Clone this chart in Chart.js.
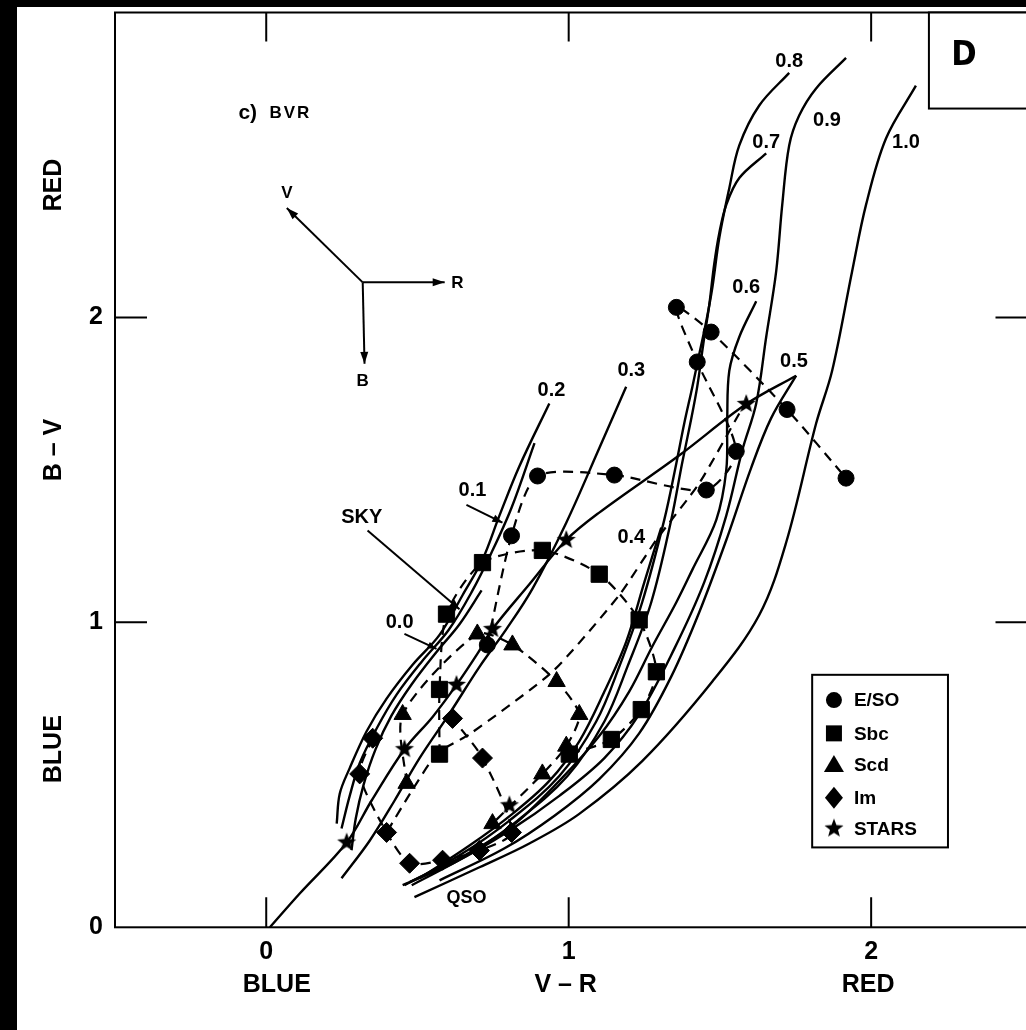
<!DOCTYPE html>
<html>
<head>
<meta charset="utf-8">
<script src="https://cdn.jsdelivr.net/npm/chart.js@4.4.1/dist/chart.umd.min.js"></script>
<style>
  html, body { margin: 0; padding: 0; overflow: hidden; background: #000; width: 1026px; height: 1030px; }
  #paper { position: absolute; left: 17px; top: 7px; right: 0; bottom: 0; background: #fff; }
  #kuva { position: absolute; left: 0; top: 0; }
</style>
</head>
<body>
<div id="paper"></div>
<canvas id="kuva" width="1050" height="1030"></canvas>
<script>
// Akselit: V-R vaakaan, B-V pystyyn
const xTicks = [0, 1, 2];
const yTicks = [0, 1, 2];
const xTitles = ['BLUE', 'V – R', 'RED'];
const yTitles = ['BLUE', 'B – V', 'RED'];

// Yhtenäiset käyrät (punasiirtymä 0.0 ... 1.0), [V-R, B-V]
const curve00 = [[0.712,1.105],[0.639,0.994],[0.563,0.903],[0.481,0.797],[0.414,0.694],[0.362,0.585],[0.322,0.468],[0.296,0.357],[0.282,0.253]];
const curve01 = [[0.887,1.588],[0.811,1.376],[0.745,1.229],[0.679,1.099],[0.603,0.975],[0.514,0.871],[0.431,0.763],[0.365,0.652],[0.309,0.538],[0.276,0.431],[0.249,0.324]];
const curve02 = [[0.936,1.718],[0.837,1.512],[0.771,1.350],[0.715,1.206],[0.649,1.089],[0.573,0.959],[0.484,0.861],[0.398,0.750],[0.332,0.643],[0.276,0.522],[0.243,0.438],[0.233,0.340]];
const curve03 = [[1.190,1.773],[1.101,1.571],[0.992,1.327],[0.880,1.110],[0.794,0.978],[0.705,0.854],[0.606,0.701],[0.507,0.555],[0.424,0.415],[0.342,0.284],[0.249,0.161]];
const curve04 = [[1.306,1.311],[1.250,1.131],[1.190,0.936],[1.118,0.773],[1.035,0.610],[0.936,0.480],[0.814,0.372],[0.672,0.268],[0.507,0.161]];
const curve05 = [[1.752,1.809],[1.669,1.669],[1.603,1.506],[1.524,1.278],[1.432,1.034],[1.339,0.822],[1.233,0.636],[1.101,0.486],[0.953,0.366],[0.788,0.259],[0.573,0.154]];
const curve06 = [[1.620,2.053],[1.564,1.936],[1.531,1.825],[1.524,1.662],[1.521,1.499],[1.488,1.336],[1.409,1.173],[1.356,1.066],[1.276,0.920],[1.200,0.773],[1.101,0.627],[0.969,0.480],[0.814,0.333],[0.656,0.236],[0.474,0.148]];
const curve07 = [[1.653,2.538],[1.564,2.457],[1.521,2.369],[1.498,2.277],[1.481,2.174],[1.465,2.043],[1.445,1.913],[1.425,1.773],[1.402,1.652],[1.375,1.522],[1.339,1.336],[1.273,1.066],[1.194,0.854],[1.118,0.675],[0.996,0.496],[0.831,0.350],[0.665,0.236],[0.481,0.138]];
const curve08 = [[1.729,2.802],[1.630,2.695],[1.564,2.564],[1.531,2.424],[1.498,2.261],[1.475,2.098],[1.455,1.988],[1.432,1.881],[1.409,1.773],[1.382,1.652],[1.356,1.522],[1.316,1.336],[1.243,1.066],[1.167,0.854],[1.091,0.675],[0.969,0.496],[0.804,0.350],[0.639,0.236],[0.457,0.138]];
const curve09 = [[1.917,2.851],[1.818,2.751],[1.762,2.662],[1.729,2.564],[1.706,2.369],[1.686,2.151],[1.653,1.936],[1.620,1.718],[1.574,1.565],[1.521,1.350],[1.448,1.131],[1.349,0.913],[1.233,0.698],[1.118,0.555],[0.969,0.431],[0.804,0.317],[0.623,0.213],[0.451,0.138]];
const curve10 = [[2.148,2.760],[2.049,2.587],[1.983,2.369],[1.937,2.151],[1.871,1.825],[1.818,1.652],[1.719,1.262],[1.630,1.024],[1.475,0.806],[1.243,0.545],[1.035,0.372],[0.870,0.275],[0.705,0.197],[0.490,0.099]];
const stellarLocus = [[0.012,0.0],[0.11,0.11],[0.266,0.278],[0.348,0.415],[0.457,0.584],[0.55,0.69],[0.629,0.795],[0.70,0.90],[0.748,0.978],[0.870,1.125],[0.992,1.27],[1.101,1.36],[1.366,1.548],[1.587,1.716],[1.752,1.809]];
// Katkoviivat
const qsoTrack = [[1.564,1.685],[1.432,1.457],[1.290,1.271],[1.167,1.089],[0.946,0.838],[0.672,0.633],[0.566,0.571],[0.481,0.447],[0.398,0.311]];
const esoPts = [[0.731,0.926],[0.811,1.284],[0.897,1.480],[1.151,1.483],[1.455,1.434],[1.554,1.561],[1.425,1.854],[1.356,2.033],[1.471,1.952],[1.722,1.698],[1.917,1.473]];
const sbcPts = [[0.573,0.568],[0.573,0.780],[0.596,1.027],[0.715,1.196],[0.913,1.236],[1.101,1.158],[1.233,1.008],[1.290,0.838],[1.240,0.714],[1.141,0.616],[1.002,0.568]];
const scdPts = [[0.464,0.472],[0.451,0.698],[0.698,0.962],[0.814,0.926],[0.960,0.806],[1.035,0.698],[0.992,0.594],[0.913,0.503],[0.748,0.340]];
const imPts = [[0.352,0.620],[0.309,0.503],[0.398,0.311],[0.474,0.210],[0.583,0.220],[0.705,0.252],[0.811,0.311],[0.715,0.555],[0.616,0.685]];
const starPts = [[0.266,0.278],[0.457,0.584],[0.629,0.795],[0.748,0.978],[0.992,1.27],[1.587,1.716],[0.804,0.40]];

// Tekstit kuvan sisällä
const zLabels = [['0.0',0.441,1.001],['0.1',0.682,1.431],['0.2',0.943,1.761],['0.3',1.207,1.826],['0.4',1.207,1.278],['0.5',1.745,1.854],['0.6',1.587,2.098],['0.7',1.653,2.574],['0.8',1.729,2.841],['0.9',1.854,2.646],['1.0',2.115,2.574],['SKY',0.316,1.343]];
const legendNames = ['E/SO', 'Sbc', 'Scd', 'Im', 'STARS'];

const FONT = '"Liberation Sans", Arial, sans-serif';

// Täytetty tähti pistetyyliksi
function teeTahti(r) {
  const c = document.createElement('canvas');
  c.width = c.height = Math.ceil(r * 2 + 2);
  const g = c.getContext('2d');
  g.fillStyle = '#000';
  g.beginPath();
  for (let i = 0; i < 10; i++) {
    const rr = i % 2 === 0 ? r : r * 0.42;
    const a = -Math.PI / 2 + i * Math.PI / 5;
    const px = c.width / 2 + rr * Math.cos(a), py = c.height / 2 + rr * Math.sin(a);
    if (i === 0) g.moveTo(px, py); else g.lineTo(px, py);
  }
  g.closePath();
  g.fill();
  return c;
}
const tahti = teeTahti(10);

function xy(arr) { return arr.map(p => ({ x: p[0], y: p[1] })); }

function kayra(arr) {
  return { data: xy(arr), showLine: true, borderColor: '#000', borderWidth: 2.4,
    pointRadius: 0, tension: 0.35, order: 3 };
}
function tyyppi(arr, style, r) {
  return { data: xy(arr), showLine: true, borderColor: '#000', borderWidth: 2.2,
    borderDash: [10, 7], tension: 0.25, pointStyle: style, pointRadius: r,
    pointBackgroundColor: '#000', pointBorderColor: '#000', pointBorderWidth: 1, order: 1 };
}

const datasets = [
  kayra(curve00), kayra(curve01), kayra(curve02), kayra(curve03), kayra(curve04), kayra(curve05),
  kayra(curve06), kayra(curve07), kayra(curve08), kayra(curve09), kayra(curve10), kayra(stellarLocus),
  { data: xy(qsoTrack), showLine: true, borderColor: '#000', borderWidth: 2.2, borderDash: [10, 7],
    pointRadius: 0, tension: 0.2, order: 2 },
  tyyppi(esoPts, 'circle', 8),
  tyyppi(sbcPts, 'rect', 11.5),
  tyyppi(scdPts, 'triangle', 10),
  tyyppi(imPts, 'rectRot', 10),
  { data: xy(starPts), showLine: false, pointStyle: tahti, pointRadius: 10, order: 0 }
];

function nuoli(ctx, x1, y1, x2, y2, len, wid) {
  ctx.beginPath(); ctx.moveTo(x1, y1); ctx.lineTo(x2, y2); ctx.stroke();
  const a = Math.atan2(y2 - y1, x2 - x1);
  ctx.beginPath();
  ctx.moveTo(x2, y2);
  ctx.lineTo(x2 - len * Math.cos(a) + wid * Math.sin(a), y2 - len * Math.sin(a) - wid * Math.cos(a));
  ctx.lineTo(x2 - len * Math.cos(a) - wid * Math.sin(a), y2 - len * Math.sin(a) + wid * Math.cos(a));
  ctx.closePath(); ctx.fill();
}

// Kehys, sisäänpäin osoittavat tikit, tekstit, selite
const koristeet = {
  id: 'koristeet',
  afterDraw(chart) {
    const { ctx, chartArea: a, scales: { x, y } } = chart;
    const X = v => x.getPixelForValue(v), Y = v => y.getPixelForValue(v);
    ctx.save();
    ctx.strokeStyle = '#000'; ctx.fillStyle = '#000'; ctx.lineWidth = 2;
    ctx.strokeRect(a.left, a.top, a.right - a.left, a.bottom - a.top);
    ctx.beginPath();
    xTicks.forEach(v => {
      ctx.moveTo(X(v), a.bottom); ctx.lineTo(X(v), a.bottom - 30);
      ctx.moveTo(X(v), a.top); ctx.lineTo(X(v), a.top + 29);
    });
    yTicks.filter(v => v > 0).forEach(v => {
      ctx.moveTo(a.left, Y(v)); ctx.lineTo(a.left + 32, Y(v));
      ctx.moveTo(a.right, Y(v)); ctx.lineTo(a.right - 42, Y(v));
    });
    ctx.stroke();

    // akselien otsikot
    ctx.font = 'bold 25px ' + FONT;
    ctx.textAlign = 'center'; ctx.textBaseline = 'middle';
    [0.035, 0.99, 1.99].forEach((v, i) => ctx.fillText(xTitles[i], X(v), 985));
    [0.584, 1.565, 2.434].forEach((v, i) => {
      ctx.save(); ctx.translate(54, Y(v)); ctx.rotate(-Math.PI / 2);
      ctx.fillText(yTitles[i], 0, 0); ctx.restore();
    });

    // c) BVR ja suuntanuolet
    ctx.font = 'bold 21px ' + FONT;
    ctx.fillText('c)', X(-0.061), Y(2.669));
    ctx.font = 'bold 17px ' + FONT;
    ctx.letterSpacing = '2px';
    ctx.fillText('BVR', X(0.08), Y(2.669));
    ctx.letterSpacing = '0px';
    ctx.lineWidth = 2;
    const cx = X(0.319), cy = Y(2.115);
    nuoli(ctx, cx, cy, X(0.068), Y(2.359), 12, 4);
    nuoli(ctx, cx, cy, X(0.590), Y(2.115), 12, 4);
    nuoli(ctx, cx, cy, X(0.325), Y(1.848), 12, 4);
    ctx.font = 'bold 17px ' + FONT;
    ctx.fillText('V', X(0.068), Y(2.408));
    ctx.fillText('R', X(0.632), Y(2.112));
    ctx.fillText('B', X(0.319), Y(1.789));

    // punasiirtymien tunnukset
    ctx.font = 'bold 20px ' + FONT;
    zLabels.forEach(l => ctx.fillText(l[0], X(l[1]), Y(l[2])));
    ctx.font = 'bold 18px ' + FONT;
    ctx.fillText('QSO', X(0.662), Y(0.096));
    ctx.lineWidth = 2;
    nuoli(ctx, X(0.662), Y(1.385), X(0.781), Y(1.327), 10, 4);
    nuoli(ctx, X(0.335), Y(1.301), X(0.639), Y(1.043), 10, 4);
    nuoli(ctx, X(0.457), Y(0.962), X(0.563), Y(0.913), 9, 3.5);

    // D-laatikko
    ctx.fillStyle = '#fff';
    ctx.fillRect(X(2.191), a.top, 200, Y(2.685) - a.top);
    ctx.fillStyle = '#000';
    ctx.strokeRect(X(2.191), a.top, 200, Y(2.685) - a.top);
    ctx.font = 'bold 34px "Liberation Sans Narrow", "DejaVu Sans Condensed", ' + FONT;
    ctx.fillText('D', 964, 56);

    // selite
    const lx = X(1.805), ly = Y(0.828), lw = X(2.254) - lx, lh = Y(0.262) - ly;
    ctx.strokeRect(lx, ly, lw, lh);
    ctx.font = 'bold 19px ' + FONT;
    ctx.textAlign = 'left';
    const sx = X(1.877);
    [0.745, 0.636, 0.532, 0.425, 0.324].forEach((v, i) => {
      const sy = Y(v);
      ctx.beginPath();
      if (i === 0) ctx.arc(sx, sy, 8, 0, Math.PI * 2);
      if (i === 1) ctx.rect(sx - 8, sy - 8, 16, 16);
      if (i === 2) { ctx.moveTo(sx, sy - 10); ctx.lineTo(sx + 10, sy + 7); ctx.lineTo(sx - 10, sy + 7); ctx.closePath(); }
      if (i === 3) { ctx.moveTo(sx, sy - 11); ctx.lineTo(sx + 9, sy); ctx.lineTo(sx, sy + 11); ctx.lineTo(sx - 9, sy); ctx.closePath(); }
      ctx.fill();
      if (i === 4) ctx.drawImage(tahti, sx - tahti.width / 2, sy - tahti.height / 2);
      ctx.fillText(legendNames[i], X(1.943), sy + 1);
    });
    ctx.restore();
  }
};

const tickFont = { family: FONT, size: 25, weight: 'bold' };

new Chart(document.getElementById('kuva'), {
  type: 'scatter',
  data: { datasets: datasets },
  plugins: [koristeet],
  options: {
    responsive: false,
    devicePixelRatio: 1,
    animation: false,
    events: [],
    layout: { padding: { left: 0, top: 8, right: 11.5, bottom: 0 } },
    plugins: { legend: { display: false }, tooltip: { enabled: false } },
    scales: {
      x: {
        type: 'linear', min: -0.5, max: 2.55,
        grid: { display: false, drawTicks: false }, border: { display: false },
        ticks: { color: '#000', font: tickFont, padding: 10, maxRotation: 0, autoSkip: false },
        afterBuildTicks: s => { s.ticks = xTicks.map(v => ({ value: v })); },
        afterFit: s => { s.height = 102.7; s.paddingLeft = 0; s.paddingRight = 0; }
      },
      y: {
        type: 'linear', min: 0, max: 3,
        grid: { display: false, drawTicks: false }, border: { display: false },
        ticks: { color: '#000', font: tickFont, padding: 12, autoSkip: false },
        afterBuildTicks: s => { s.ticks = yTicks.map(v => ({ value: v })); },
        afterFit: s => { s.width = 115; s.paddingTop = 0; s.paddingBottom = 0; }
      }
    }
  }
});
</script>
</body>
</html>
